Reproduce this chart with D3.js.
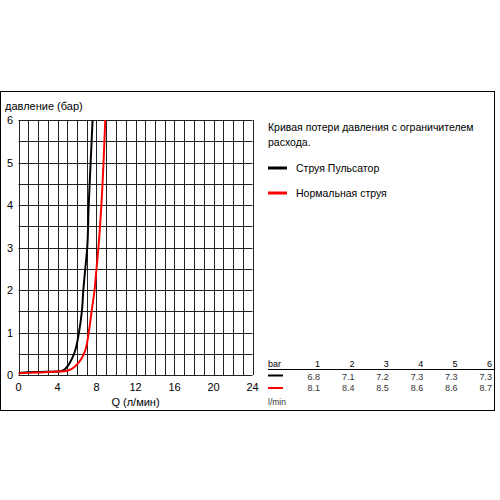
<!DOCTYPE html>
<html>
<head>
<meta charset="utf-8">
<script src="https://cdn.jsdelivr.net/npm/d3@7"></script>
<style>
body { margin: 0; background: #fff; }
svg { display: block; font-family: "Liberation Sans", Arial, sans-serif; }
</style>
</head>
<body>
<svg id="chart" width="500" height="500"></svg>
<script>
// data
var xTicks = [0, 4, 8, 12, 16, 20, 24];
var yTicks = [0, 1, 2, 3, 4, 5, 6];

var pulsQ = [0, 2, 4.0, 4.5, 5.0, 5.3, 5.7, 6.2, 6.5, 6.65, 6.85, 7.05, 7.2, 7.4, 7.6];
var pulsP = [0.05, 0.07, 0.08, 0.1, 0.2, 0.3, 0.5, 1.0, 1.5, 2.0, 2.5, 3.0, 4.0, 5.0, 6.0];

var normQ = [0, 2, 4.0, 5.0, 5.5, 6.0, 6.5, 6.8, 7.2, 7.5, 7.8, 8.0, 8.2, 8.5, 8.9];
var normP = [0.04, 0.06, 0.08, 0.1, 0.15, 0.25, 0.4, 0.55, 1.0, 1.5, 2.0, 2.5, 3.0, 4.0, 6.0];

var tableBar = ["1", "2", "3", "4", "5", "6"];
var tablePuls = ["6.8", "7.1", "7.2", "7.3", "7.3", "7.3"];
var tableNorm = ["8.1", "8.4", "8.5", "8.6", "8.6", "8.7"];

var svg = d3.select("#chart");

// frame
svg.append("rect")
    .attr("x", 0.5).attr("y", 91.5)
    .attr("width", 494).attr("height", 319)
    .attr("fill", "none").attr("stroke", "#000").attr("stroke-width", 1);

var x_scale = d3.scaleLinear().domain([0, 24]).range([18.5, 252.5]);
var y_scale = d3.scaleLinear().domain([0, 6]).range([375, 120]);

var grid = svg.append("g");

// vertical grid every 1 l/min
grid.selectAll("vline")
    .data(d3.range(0, 25))
    .enter()
    .append("line")
    .attr("x1", function(d) { return Math.round(x_scale(d)) + 0.5; })
    .attr("x2", function(d) { return Math.round(x_scale(d)) + 0.5; })
    .attr("y1", y_scale(0))
    .attr("y2", y_scale(6))
    .attr("stroke", "#222")
    .attr("stroke-width", 1);

// horizontal grid every 0.5 bar
grid.selectAll("hline")
    .data(d3.range(0, 6.01, 0.5))
    .enter()
    .append("line")
    .attr("x1", x_scale(0))
    .attr("x2", x_scale(24))
    .attr("y1", function(d) { return Math.round(y_scale(d)) + 0.5; })
    .attr("y2", function(d) { return Math.round(y_scale(d)) + 0.5; })
    .attr("stroke", "#222")
    .attr("stroke-width", 1);

// tick labels
svg.selectAll("xlab")
    .data(xTicks)
    .enter()
    .append("text")
    .attr("x", function(d) { return x_scale(d); })
    .attr("y", 391)
    .attr("text-anchor", "middle")
    .attr("font-size", 11)
    .text(function(d) { return d; });

svg.selectAll("ylab")
    .data(yTicks)
    .enter()
    .append("text")
    .attr("x", 13)
    .attr("y", function(d) { return y_scale(d) + 4; })
    .attr("text-anchor", "end")
    .attr("font-size", 11)
    .text(function(d) { return d; });

svg.append("text")
    .attr("x", 5).attr("y", 110)
    .attr("font-size", 11)
    .text("давление (бар)");

svg.append("text")
    .attr("x", x_scale(12)).attr("y", 406)
    .attr("text-anchor", "middle")
    .attr("font-size", 11)
    .text("Q (л/мин)");

// curves
svg.append("clipPath").attr("id", "plotclip")
    .append("rect")
    .attr("x", x_scale(0)).attr("y", y_scale(6))
    .attr("width", x_scale(24) - x_scale(0)).attr("height", y_scale(0) - y_scale(6));

var line = d3.line()
    .x(function(d) { return x_scale(d[0]); })
    .y(function(d) { return y_scale(d[1]); })
    .curve(d3.curveMonotoneY);

svg.append("path")
    .datum(d3.zip(pulsQ, pulsP))
    .attr("d", line)
    .attr("fill", "none")
    .attr("stroke", "#000")
    .attr("stroke-width", 2)
    .attr("clip-path", "url(#plotclip)");

svg.append("path")
    .datum(d3.zip(normQ, normP))
    .attr("d", line)
    .attr("fill", "none")
    .attr("stroke", "#ff0000")
    .attr("stroke-width", 2)
    .attr("clip-path", "url(#plotclip)");

// legend
svg.append("text")
    .attr("x", 268).attr("y", 131)
    .attr("font-size", 10.5)
    .text("Кривая потери давления с ограничителем");
svg.append("text")
    .attr("x", 268).attr("y", 146)
    .attr("font-size", 10.5)
    .text("расхода.");

var legendItems = [
    { label: "Струя Пульсатор", color: "#000", y: 168 },
    { label: "Нормальная струя", color: "#ff0000", y: 193 }
];

var leg = svg.selectAll("legend")
    .data(legendItems)
    .enter()
    .append("g");

leg.append("line")
    .attr("x1", 268).attr("x2", 287)
    .attr("y1", function(d) { return d.y; })
    .attr("y2", function(d) { return d.y; })
    .attr("stroke", function(d) { return d.color; })
    .attr("stroke-width", 3);

leg.append("text")
    .attr("x", 296)
    .attr("y", function(d) { return d.y + 4; })
    .attr("font-size", 10.5)
    .text(function(d) { return d.label; });

// table
var colX = d3.scalePoint().domain(tableBar).range([320, 492]);

svg.append("text")
    .attr("x", 268).attr("y", 367)
    .attr("font-size", 9)
    .text("bar");

svg.append("line")
    .attr("x1", 268).attr("x2", 495)
    .attr("y1", 369.5).attr("y2", 369.5)
    .attr("stroke", "#000").attr("stroke-width", 1);

svg.selectAll("hdr")
    .data(tableBar)
    .enter()
    .append("text")
    .attr("x", function(d) { return colX(d); })
    .attr("y", 367)
    .attr("text-anchor", "end")
    .attr("font-size", 9)
    .text(function(d) { return d; });

svg.append("line")
    .attr("x1", 268).attr("x2", 283)
    .attr("y1", 375.5).attr("y2", 375.5)
    .attr("stroke", "#000").attr("stroke-width", 2);

svg.append("line")
    .attr("x1", 268).attr("x2", 283)
    .attr("y1", 388).attr("y2", 388)
    .attr("stroke", "#ff0000").attr("stroke-width", 2);

svg.selectAll("rowP")
    .data(tablePuls)
    .enter()
    .append("text")
    .attr("x", function(d, i) { return colX(tableBar[i]); })
    .attr("y", 380)
    .attr("text-anchor", "end")
    .attr("font-size", 9)
    .attr("fill", "#333")
    .text(function(d) { return d; });

svg.selectAll("rowN")
    .data(tableNorm)
    .enter()
    .append("text")
    .attr("x", function(d, i) { return colX(tableBar[i]); })
    .attr("y", 391)
    .attr("text-anchor", "end")
    .attr("font-size", 9)
    .attr("fill", "#333")
    .text(function(d) { return d; });

svg.append("text")
    .attr("x", 268).attr("y", 405)
    .attr("font-size", 8.5)
    .attr("fill", "#333")
    .text("l/min");
</script>
</body>
</html>
